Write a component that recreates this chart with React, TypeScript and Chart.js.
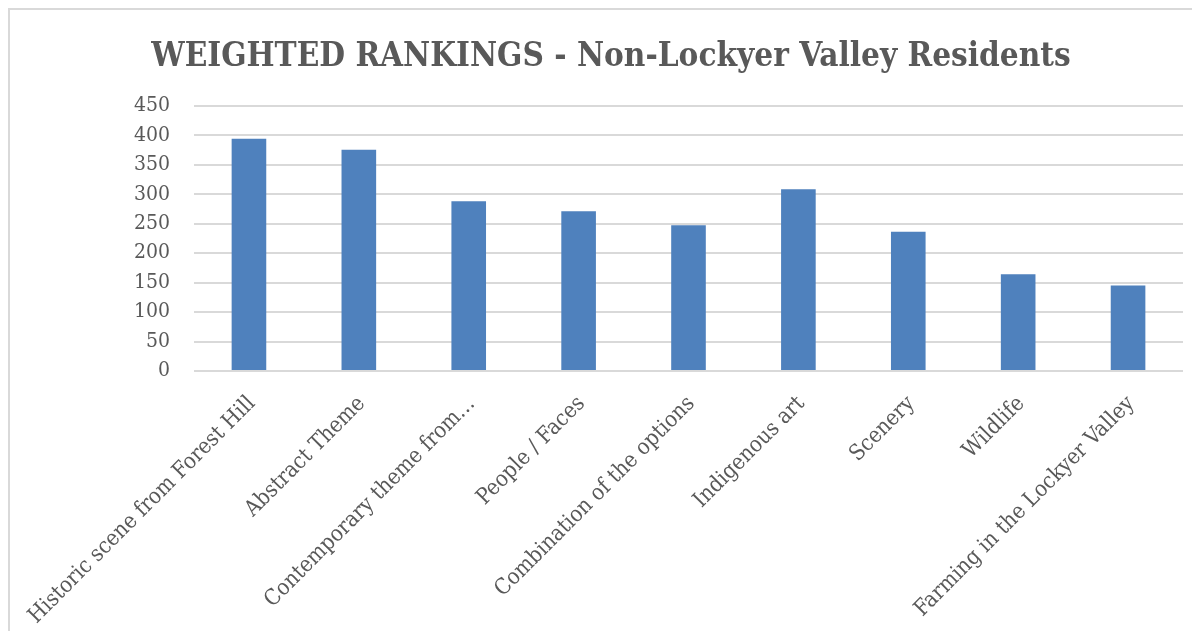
import React, { useEffect, useRef } from "react";
import { Chart, registerables } from "chart.js";

Chart.register(...registerables);

const categories = [
  "Historic scene from Forest Hill",
  "Abstract Theme",
  "Contemporary theme from…",
  "People / Faces",
  "Combination of the options",
  "Indigenous art",
  "Scenery",
  "Wildlife",
  "Farming in the Lockyer Valley",
];
const values = [394, 375, 288, 271, 247, 308, 236, 164, 145];
const titleText = "WEIGHTED RANKINGS - Non-Lockyer Valley Residents";
const yMax = 450;
const yStep = 50;

const FONT = "'DejaVu Serif Condensed', 'DejaVu Serif', serif";

export default function App() {
  const ref = useRef<HTMLCanvasElement>(null);
  useEffect(() => {
    if (!ref.current) return;
    const chart = new Chart(ref.current, {
      type: "bar",
      data: {
        labels: categories,
        datasets: [
          {
            data: values,
            backgroundColor: "#4f81bd",
            borderWidth: 0,
            barPercentage: 0.315,
            categoryPercentage: 1,
          },
        ],
      },
      options: {
        animation: false,
        responsive: false,
        layout: { padding: { left: 29, right: 9, top: 0, bottom: 0 } },
        plugins: {
          legend: { display: false },
          tooltip: { enabled: false },
          title: {
            display: true,
            text: titleText,
            color: "#595959",
            font: { family: FONT, size: 33, weight: "bold", lineHeight: 1.2 },
            padding: { top: 28, bottom: 28 },
          },
        },
        scales: {
          x: {
            grid: { display: false },
            border: { display: false },
            ticks: {
              color: "#595959",
              font: { family: FONT, size: 22 },
              maxRotation: 45,
              minRotation: 45,
              autoSkip: false,
              padding: 12,
              labelOffset: 3,
            },
            afterFit: (s: any) => {
              s.height = 260;
              s.paddingLeft = 0;
              s.paddingRight = 0;
            },
          },
          y: {
            min: 0,
            max: yMax,
            grid: { color: "#d9d9d9", lineWidth: 2, drawTicks: false },
            border: { display: false },
            ticks: {
              stepSize: yStep,
              color: "#595959",
              font: { family: FONT, size: 21 },
              padding: 24,
            },
            afterFit: (s: any) => {
              s.width = 155;
            },
          },
        },
      },
    });
    return () => chart.destroy();
  }, []);
  return (
    <div
      style={{
        width: 1184,
        height: 623,
        borderTop: "2px solid #d9d9d9",
        borderLeft: "2px solid #d9d9d9",
        boxSizing: "border-box",
        overflow: "hidden",
        background: "#fff",
      }}
    >
      <canvas ref={ref} width={1182} height={621} style={{ display: "block" }} />
    </div>
  );
}
